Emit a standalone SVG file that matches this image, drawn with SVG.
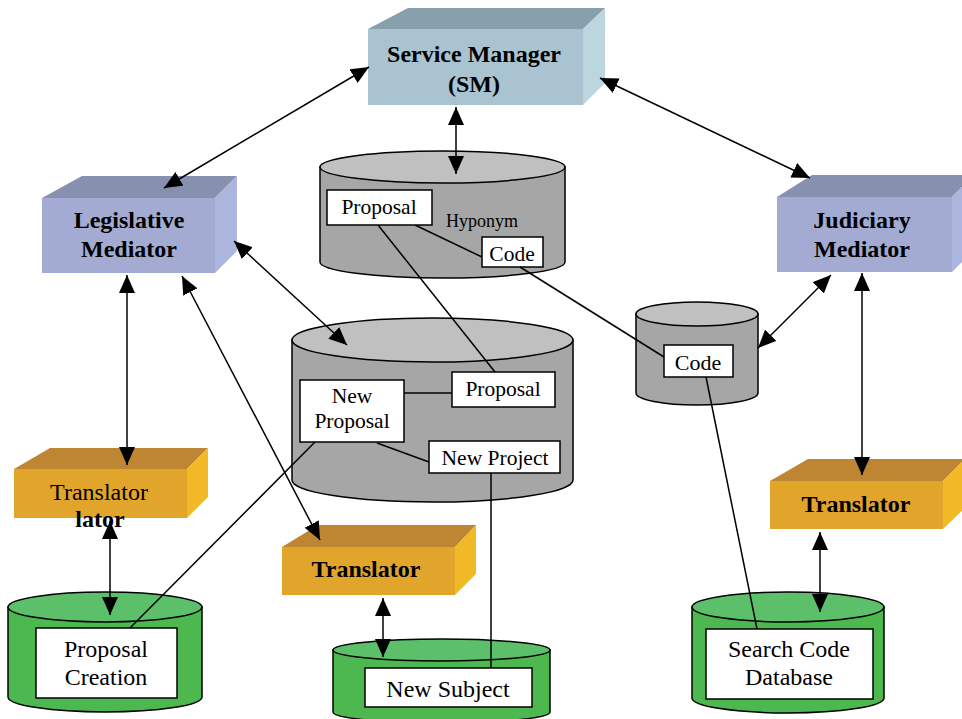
<svg xmlns="http://www.w3.org/2000/svg" width="962" height="719" viewBox="0 0 962 719">
<defs>
<marker id="ah" viewBox="0 0 18 16" refX="18" refY="8" markerWidth="18" markerHeight="16" orient="auto-start-reverse" markerUnits="userSpaceOnUse"><path d="M0,0 L18,8 L0,16 z" fill="#000"/></marker>
</defs>
<style>
.t{font-family:"Liberation Serif","Times New Roman",serif;fill:#000;text-anchor:middle}
.b{font-weight:bold;font-size:24px}
.s{font-size:21.5px}
.m{font-size:24px}
.ln{stroke:#000;stroke-width:1.5;fill:none}
.ar{stroke:#000;stroke-width:1.5;fill:none;marker-start:url(#ah);marker-end:url(#ah)}
.bx{fill:#fff;stroke:#000;stroke-width:1.5}
.cg{fill:#a6a6a6;stroke:#000;stroke-width:1.5}
.cgt{fill:#c0c0c0;stroke:#000;stroke-width:1.5}
.cn{fill:#4db84f;stroke:#000;stroke-width:1.5}
.cnt{fill:#5cbf6a;stroke:#000;stroke-width:1.5}
</style>
<rect width="962" height="719" fill="#fff"/>

<g id="sm">
<polygon points="368,29 408,8 605,8 583,29" fill="#87a0ac"/>
<polygon points="583,29 605,8 605,83 583,105" fill="#bcd6df"/>
<rect x="368" y="29" width="215" height="76" fill="#a9c3d0"/>
<text class="t b" x="474" y="62">Service Manager</text>
<text class="t b" x="474" y="92">(SM)</text>
</g>

<g id="legislative">
<polygon points="42,198 82,176 237,176 215,198" fill="#8890b0"/>
<polygon points="215,198 237,176 237,251 215,273" fill="#acb5dd"/>
<rect x="42" y="198" width="173" height="75" fill="#a3abd2"/>
<text class="t b" x="129" y="228">Legislative</text>
<text class="t b" x="129" y="257">Mediator</text>
</g>

<g id="judiciary">
<polygon points="777,197 812,175 974,175 952,197" fill="#8890b0"/>
<polygon points="952,197 974,175 974,250 952,272" fill="#acb5dd"/>
<rect x="777" y="197" width="175" height="75" fill="#a3abd2"/>
<text class="t b" x="862" y="228">Judiciary</text>
<text class="t b" x="862" y="257">Mediator</text>
</g>

<g id="translator-left">
<polygon points="14,469 50,448 208,448 187,469" fill="#be8633"/>
<polygon points="187,469 208,448 208,497 187,518" fill="#f1b925"/>
<rect x="14" y="469" width="173" height="49" fill="#e0a52a"/>
<text class="t m" x="99" y="500">Translator</text>
<text class="t b" x="100" y="527">lator</text>
</g>

<g id="translator-mid">
<polygon points="282,547 318,525 476,525 455,547" fill="#be8633"/>
<polygon points="455,547 476,525 476,574 455,595" fill="#f1b925"/>
<rect x="282" y="547" width="173" height="48" fill="#e0a52a"/>
<text class="t b" x="366" y="577">Translator</text>
</g>

<g id="translator-right">
<polygon points="770,481 808,459 965,459 943,481" fill="#be8633"/>
<polygon points="943,481 965,459 965,508 943,529" fill="#f1b925"/>
<rect x="770" y="481" width="173" height="48" fill="#e0a52a"/>
<text class="t b" x="856" y="512">Translator</text>
</g>

<g id="db-hyponym">
<path class="cg" d="M320,167 L320,262 A122.5,16 0 0 0 565,262 L565,167 Z"/>
<ellipse class="cgt" cx="442.5" cy="167" rx="122.5" ry="16"/>
<line class="ln" x1="415" y1="225" x2="482" y2="257"/>
<rect class="bx" x="327" y="190" width="105" height="35"/>
<text class="t s" x="379" y="214">Proposal</text>
<text class="t" x="482" y="227" style="font-size:18px">Hyponym</text>
<rect class="bx" x="482" y="237" width="61" height="30"/>
<text class="t s" x="512" y="261">Code</text>
</g>

<g id="db-proposal">
<path class="cg" d="M292,340 L292,480 A140.5,22 0 0 0 573,480 L573,340 Z"/>
<ellipse class="cgt" cx="432.5" cy="340" rx="140.5" ry="22"/>
<line class="ln" x1="404" y1="393" x2="452" y2="393"/>
<line class="ln" x1="377" y1="443" x2="429" y2="462"/>
<rect class="bx" x="300" y="380" width="104" height="62"/>
<text class="t s" x="352" y="403">New</text>
<text class="t s" x="352" y="428">Proposal</text>
<rect class="bx" x="452" y="372" width="103" height="35"/>
<text class="t s" x="503" y="396">Proposal</text>
<rect class="bx" x="429" y="441" width="131" height="32"/>
<text class="t s" x="495" y="465">New Project</text>
</g>

<g id="db-code">
<path class="cg" d="M636,314 L636,393 A61,12 0 0 0 758,393 L758,314 Z"/>
<ellipse class="cgt" cx="697" cy="314" rx="61" ry="12"/>
<rect class="bx" x="664" y="345" width="69" height="32"/>
<text class="t" x="698" y="370" style="font-size:22px">Code</text>
</g>

<g id="db-proposal-creation">
<path class="cn" d="M8,607 L8,697 A97,15 0 0 0 202,697 L202,607 Z"/>
<ellipse class="cnt" cx="105" cy="607" rx="97" ry="15"/>
<rect class="bx" x="36" y="628" width="141" height="70"/>
<text class="t m" x="106" y="657">Proposal</text>
<text class="t m" x="106" y="685">Creation</text>
</g>

<g id="db-new-subject">
<path class="cn" d="M333,650 L333,712 A108.5,11 0 0 0 550,712 L550,650 Z"/>
<ellipse class="cnt" cx="441.5" cy="650" rx="108.5" ry="11"/>
<rect class="bx" x="365" y="668" width="167" height="39"/>
<text class="t m" x="448" y="697">New Subject</text>
</g>

<g id="db-search-code">
<path class="cn" d="M692,607 L692,698 A96,15 0 0 0 884,698 L884,607 Z"/>
<ellipse class="cnt" cx="788" cy="607" rx="96" ry="15"/>
<rect class="bx" x="706" y="629" width="167" height="70"/>
<text class="t m" x="789" y="657">Search Code</text>
<text class="t m" x="789" y="685">Database</text>
</g>

<g id="connectors">
<line class="ln" x1="378" y1="225" x2="495" y2="372"/>
<line class="ln" x1="520" y1="267" x2="664" y2="357"/>
<line class="ln" x1="491" y1="473" x2="491" y2="668"/>
<line class="ln" x1="315" y1="442" x2="130" y2="628"/>
<line class="ln" x1="706" y1="377" x2="757" y2="629"/>
<line class="ar" x1="164" y1="188" x2="369" y2="67"/>
<line class="ar" x1="600" y1="78" x2="810" y2="178"/>
<line class="ar" x1="456" y1="107" x2="456" y2="174"/>
<line class="ar" x1="234" y1="241" x2="347" y2="345"/>
<line class="ar" x1="182" y1="276" x2="320" y2="540"/>
<line class="ar" x1="127" y1="275" x2="127" y2="465"/>
<line class="ar" x1="110" y1="521" x2="110" y2="615"/>
<line class="ar" x1="383" y1="598" x2="383" y2="657"/>
<line class="ar" x1="831" y1="275" x2="758" y2="348"/>
<line class="ar" x1="862" y1="273" x2="862" y2="475"/>
<line class="ar" x1="820" y1="532" x2="820" y2="612"/>
</g>
</svg>
